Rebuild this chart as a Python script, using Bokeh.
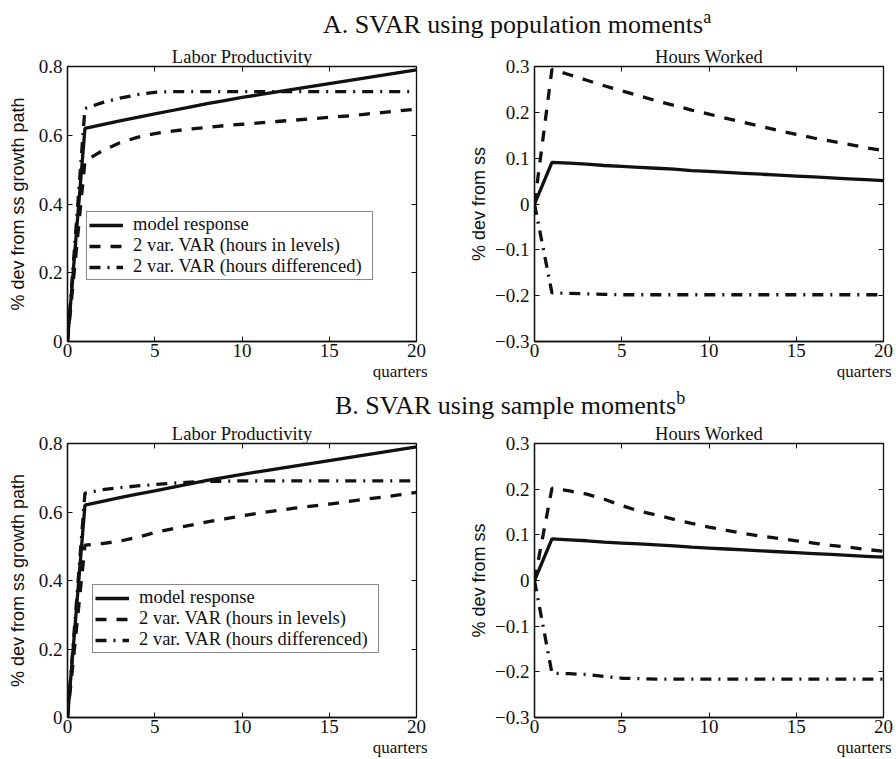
from bokeh.plotting import figure
from bokeh.models import Range1d, FixedTicker, LinearAxis, Legend, LegendItem, Div, Title
from bokeh.layouts import column, row
from bokeh.embed import file_html
from bokeh.resources import INLINE

# ---------------- data ----------------
quarters = list(range(21))
x_ticks = [0, 5, 10, 15, 20]
lp_ticks = [0, 0.2, 0.4, 0.6, 0.8]
lp_tick_labels = ["0", "0.2", "0.4", "0.6", "0.8"]
hw_ticks = [-0.3, -0.2, -0.1, 0, 0.1, 0.2, 0.3]
hw_tick_labels = ["\u22120.3", "\u22120.2", "\u22120.1", "0", "0.1", "0.2", "0.3"]

series_names = ["model response", "2 var. VAR (hours in levels)", "2 var. VAR (hours differenced)"]

# Labor productivity, model response (same in A and B)
lp_model = [0.0, 0.620, 0.631, 0.642, 0.652, 0.662, 0.672, 0.682, 0.692, 0.701, 0.710,
            0.718, 0.726, 0.734, 0.742, 0.750, 0.758, 0.766, 0.774, 0.782, 0.790]
# Hours worked, model response (same in A and B)
hw_model = [0.0, 0.091, 0.089, 0.087, 0.084, 0.082, 0.080, 0.078, 0.076, 0.073, 0.071,
            0.069, 0.067, 0.065, 0.063, 0.061, 0.059, 0.057, 0.055, 0.053, 0.051]

# Panel A: population moments
lp_levels_a = [0.0, 0.525, 0.555, 0.578, 0.594, 0.605, 0.612, 0.618, 0.623, 0.628, 0.632,
               0.636, 0.640, 0.644, 0.648, 0.652, 0.656, 0.661, 0.666, 0.671, 0.676]
lp_diff_a = [0.0, 0.678, 0.695, 0.708, 0.718, 0.725, 0.727, 0.727, 0.727, 0.727, 0.727,
             0.727, 0.727, 0.727, 0.727, 0.727, 0.727, 0.727, 0.727, 0.727, 0.727]
hw_levels_a = [0.0, 0.294, 0.282, 0.270, 0.258, 0.247, 0.236, 0.225, 0.215, 0.205, 0.196,
               0.187, 0.178, 0.169, 0.160, 0.152, 0.144, 0.137, 0.130, 0.123, 0.116]
hw_diff_a = [0.0, -0.194, -0.195, -0.196, -0.197, -0.198, -0.198, -0.198, -0.198, -0.198, -0.198,
             -0.198, -0.198, -0.198, -0.198, -0.198, -0.198, -0.198, -0.198, -0.198, -0.198]

# Panel B: sample moments
lp_levels_b = [0.0, 0.503, 0.508, 0.515, 0.526, 0.540, 0.551, 0.561, 0.571, 0.580, 0.589,
               0.597, 0.604, 0.611, 0.617, 0.623, 0.630, 0.637, 0.643, 0.650, 0.657]
lp_diff_b = [0.0, 0.655, 0.665, 0.671, 0.676, 0.680, 0.684, 0.687, 0.689, 0.690, 0.691,
             0.691, 0.691, 0.691, 0.691, 0.691, 0.691, 0.691, 0.691, 0.691, 0.691]
hw_levels_b = [0.0, 0.202, 0.196, 0.189, 0.178, 0.164, 0.152, 0.143, 0.134, 0.125, 0.117,
               0.110, 0.103, 0.097, 0.092, 0.087, 0.082, 0.077, 0.073, 0.068, 0.064]
hw_diff_b = [0.0, -0.203, -0.204, -0.206, -0.210, -0.214, -0.215, -0.216, -0.216, -0.216, -0.216,
             -0.216, -0.216, -0.216, -0.216, -0.216, -0.216, -0.216, -0.216, -0.216, -0.216]

# ---------------- styling ----------------
INK = "#111111"
SERIF = "Liberation Serif"
SANS = "Liberation Sans"
DASHES = ["solid", "11 10", "11 7 2 7"]
LW = 3.3


def panel(width, height, bl, br, bt, bb, yr, yticks, ylabels, ylab, sub, ys,
          lab_standoff, q_off, legend_loc=None):
    p = figure(width=width, height=height, output_backend="svg", toolbar_location=None,
               x_range=Range1d(0, 20), y_range=Range1d(yr[0], yr[1]),
               min_border_left=bl, min_border_right=br, min_border_top=bt, min_border_bottom=bb,
               background_fill_color="white", border_fill_color="white")
    p.xgrid.visible = False
    p.ygrid.visible = False
    p.outline_line_color = INK
    p.outline_line_width = 1.3

    # panel subtitle
    p.title.text = sub
    p.title.align = "center"
    p.title.text_font = SERIF
    p.title.text_font_size = "18.5px"
    p.title.text_font_style = "normal"
    p.title.text_color = INK
    p.title.standoff = 0
    p.title.offset = 0

    xa = p.xaxis[0]
    ya = p.yaxis[0]
    xa.ticker = FixedTicker(ticks=x_ticks)
    ya.ticker = FixedTicker(ticks=yticks)
    ya.major_label_overrides = {t: l for t, l in zip(yticks, ylabels)}
    for ax in (xa, ya):
        ax.axis_line_color = INK
        ax.axis_line_width = 1.3
        ax.major_tick_in = 5
        ax.major_tick_out = 0
        ax.major_tick_line_color = INK
        ax.minor_tick_line_color = None
        ax.major_label_text_font = SERIF
        ax.major_label_text_font_size = "19px"
        ax.major_label_text_color = INK
    xa.major_label_standoff = 2
    ya.major_label_standoff = 5
    ya.axis_label = ylab
    ya.axis_label_text_font = SANS
    ya.axis_label_text_font_size = "18px"
    ya.axis_label_text_font_style = "normal"
    ya.axis_label_text_color = INK
    ya.axis_label_standoff = lab_standoff

    top = LinearAxis(ticker=FixedTicker(ticks=x_ticks), major_tick_in=5, major_tick_out=0,
                     major_tick_line_color=INK, minor_tick_line_color=None, axis_line_color=None,
                     major_label_text_color=None, major_label_text_font_size="1px",
                     major_label_standoff=0)
    right = LinearAxis(ticker=FixedTicker(ticks=yticks), major_tick_in=5, major_tick_out=0,
                       major_tick_line_color=INK, minor_tick_line_color=None, axis_line_color=None,
                       major_label_text_color=None, major_label_text_font_size="1px",
                       major_label_standoff=0)
    p.add_layout(top, "above")
    p.add_layout(right, "right")

    # x-axis unit note under the right end of the axis
    p.add_layout(Title(text="quarters", align="right", offset=q_off, standoff=0,
                       text_font=SERIF, text_font_size="17px", text_font_style="normal",
                       text_color=INK), "below")

    rends = []
    for y, dash in zip(ys, DASHES):
        r = p.line(quarters, y, line_color=INK, line_width=LW, line_dash=dash)
        rends.append(r)

    if legend_loc is not None:
        leg = Legend(items=[LegendItem(label=n, renderers=[r]) for n, r in zip(series_names, rends)],
                     location=legend_loc, padding=2, spacing=0, margin=0,
                     glyph_width=34, glyph_height=20, label_height=20, label_width=237,
                     label_standoff=10, border_line_color=INK, border_line_width=1.2,
                     background_fill_color="white", background_fill_alpha=1.0,
                     label_text_font=SERIF, label_text_font_size="18.5px",
                     label_text_line_height=1.0, label_text_color=INK)
        p.add_layout(leg)
    return p


f1 = panel(448, 340, 67, 32, 26, 39, (0, 0.8), lp_ticks, lp_tick_labels,
           "% dev from ss growth path", "Labor Productivity",
           [lp_model, lp_levels_a, lp_diff_a], 8, -11, legend_loc=(19, 61))
f2 = panel(448, 340, 86, 13, 26, 39, (-0.3, 0.3), hw_ticks, hw_tick_labels,
           "% dev from ss", "Hours Worked",
           [hw_model, hw_levels_a, hw_diff_a], 3, -8)
f3 = panel(448, 339, 67, 32, 23, 42, (0, 0.8), lp_ticks, lp_tick_labels,
           "% dev from ss growth path", "Labor Productivity",
           [lp_model, lp_levels_b, lp_diff_b], 8, -11, legend_loc=(25, 64))
f4 = panel(448, 339, 86, 13, 23, 42, (-0.3, 0.3), hw_ticks, hw_tick_labels,
           "% dev from ss", "Hours Worked",
           [hw_model, hw_levels_b, hw_diff_b], 3, -8)


def title_div(text, sup, left, top):
    html = ('<div style="font-family:\'Liberation Serif\',serif; font-size:26px; line-height:26px; '
            'color:#111111; white-space:nowrap; padding-left:%dpx; padding-top:%dpx;">%s'
            '<span style="font-size:18px; position:relative; top:-10px;">%s</span></div>'
            % (left, top, text, sup))
    return Div(text=html, width=896, height=40, margin=(0, 0, 0, 0))


title_a = title_div("A. SVAR using population moments", "a", 323, 12)
title_b = title_div("B. SVAR using sample moments", "b", 335, 13)

layout = column(title_a, row(f1, f2, spacing=0), title_b, row(f3, f4, spacing=0), spacing=0)

open("out.html", "w").write(file_html(layout, INLINE))
